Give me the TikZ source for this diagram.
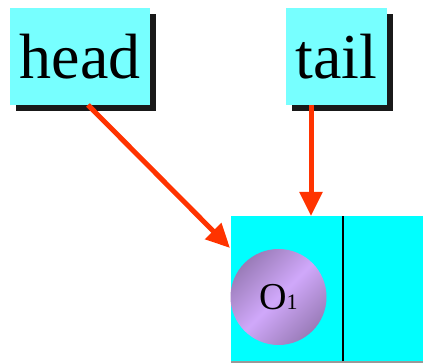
\documentclass[tikz,border=0pt]{standalone}
\usepackage{fontspec}
\setmainfont{Liberation Serif}
\usetikzlibrary{shadows,arrows.meta}
\definecolor{lcyan}{HTML}{77FFFF}
\definecolor{fullcyan}{HTML}{00FFFF}
\definecolor{arrred}{HTML}{FF3300}
\definecolor{pdark}{HTML}{9A7CB8}
\definecolor{plight}{HTML}{D0A8FA}
\begin{document}
\begin{tikzpicture}[x=1pt,y=1pt,
  ptrbox/.style={fill=lcyan, inner sep=0pt, text=black,
    drop shadow={shadow xshift=6pt, shadow yshift=-6pt, fill=black, opacity=0.9}},
  ptr/.style={draw=arrred, line width=5pt, -{Triangle[length=24pt,width=22pt]}}]
\useasboundingbox (0,0) rectangle (423,363);
\node[ptrbox, minimum width=140pt, minimum height=97pt] (head) at (80,306.5)
  {\fontsize{64}{64}\selectfont head};
\node[ptrbox, minimum width=101pt, minimum height=97pt] (tail) at (336.5,306.5)
  {\fontsize{64}{64}\selectfont tail};
\fill[black!40] (231,0) rectangle (423,1.5);
\node[fill=fullcyan, minimum width=192pt, minimum height=145pt, inner sep=0pt, anchor=south west] (cell) at (231,1.5) {};
\draw[line width=2pt, black] (343,1.5) -- (343,146.5);
\shade[left color=pdark, right color=pdark, middle color=plight, shading angle=45]
  (278.5,66) circle (48);
\node (o1) at (278.5,66) {{\fontsize{38}{38}\selectfont O}{\fontsize{22}{22}\selectfont 1}};
\coordinate (hs) at (88,258);
\coordinate (he) at (230,115);
\draw[ptr] (hs) -- (he);
\coordinate (ts) at (311,258);
\coordinate (te) at (311,147);
\draw[ptr] (ts) -- (te);
\end{tikzpicture}
\end{document}
